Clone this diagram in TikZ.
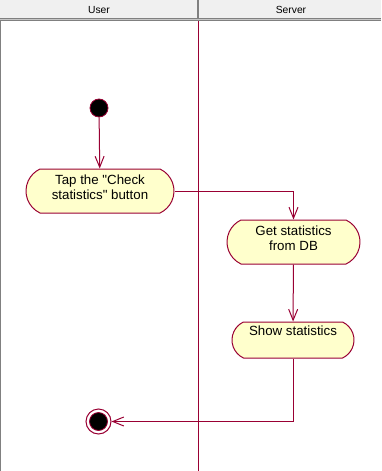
\documentclass[tikz,border=0pt]{standalone}
\usepackage{fontspec}
\setmainfont{Liberation Sans}
\usetikzlibrary{arrows.meta}
\usetikzlibrary{shapes.misc}
\definecolor{cLine}{HTML}{990033}
\definecolor{cAct}{HTML}{FFFFCC}
\definecolor{cHead}{HTML}{F0F0F0}
\definecolor{cEdge}{HTML}{808080}

\begin{document}
\begin{tikzpicture}[x=1pt, y=-1pt,
		act/.style={rounded rectangle, rounded rectangle arc length=130, draw=cLine, fill=cAct, line width=1pt, inner xsep=0pt, inner ysep=0pt, align=center, font=\fontsize{13.3}{15}\selectfont},
		flow/.style={draw=cLine, line width=1pt, -{Straight Barb[length=11pt,width=9pt]}},
		lane/.style={font=\fontsize{10.3}{12}\selectfont}]
		\useasboundingbox (0,0) rectangle (381,471);
		% lane headers
		\fill [cHead] (0,0) rectangle (381,18);
		\draw [cEdge, line width=1pt] (0,18.5) -- (381,18.5) (0,20.5) -- (381,20.5);
		\draw [cEdge!45, line width=1pt] (0,19.5) -- (381,19.5);
		\draw [cEdge, line width=1.5pt] (197.8,0) -- (197.8,18);
		\draw [cEdge, line width=1pt] (0.5,21) -- (0.5,471);
		\node [lane] (user) at (99,10) {User};
		\node [lane] (server) at (291,10) {Server};
		\draw [cLine, line width=1pt] (198.5,21) -- (198.5,471);
		% states
		\node [circle, fill=black, draw=cLine, line width=0.8pt, minimum size=18pt, inner sep=0pt] (start) at (99,108) {};
		\node [act, minimum width=148pt, text height=30pt, text depth=14pt] (tap) at (100,191) {Tap the \textquotedbl Check\\statistics\textquotedbl{} button};
		\node [act, minimum width=133pt, text height=30pt, text depth=14pt] (getdb) at (293.5,242) {Get statistics\\from DB};
		\node [act, minimum width=122pt, text height=13pt, text depth=23pt] (show) at (293,340) {Show statistics};
		\node [circle, draw=cLine, line width=1pt, minimum size=25pt, inner sep=0pt] (finish) at (98.5,421.5) {};
		\fill [black, draw=cLine, line width=0.8pt] (finish.center) circle (9);
		% transitions
		\draw [flow] (start) -- (tap);
		\draw [flow] (tap.east) -| (getdb.north);
		\draw [flow] (getdb) -- (show);
		\draw [flow] (show.south) |- (finish);
\end{tikzpicture}
\end{document}
